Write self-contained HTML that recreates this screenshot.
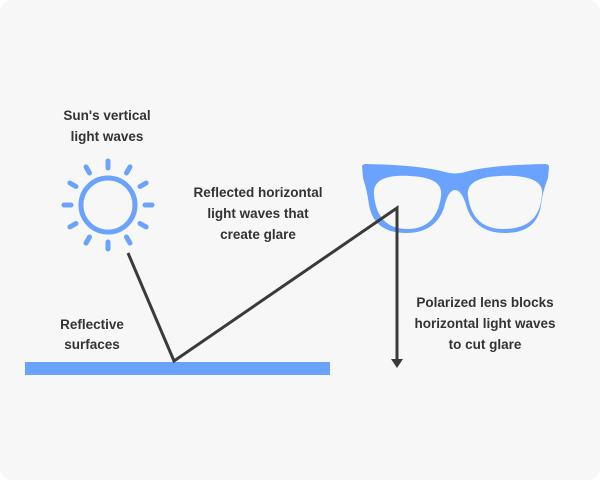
<!DOCTYPE html>
<html><head><style>
html,body{margin:0;padding:0;background:#fff;}
.t{font-family:"Liberation Sans",sans-serif;font-weight:bold;font-size:13.5px;fill:#333;}
</style></head><body>
<svg width="600" height="480" viewBox="0 0 600 480" xmlns="http://www.w3.org/2000/svg">
<rect x="0" y="0" width="600" height="480" rx="12" fill="#f7f7f7"/>
<g stroke="#6aa3ff" stroke-width="5" stroke-linecap="round" fill="none">
<circle cx="108" cy="205" r="27"/>
<g transform="translate(108,205)">
<line x1="0" y1="-37" x2="0" y2="-44"/>
<line x1="0" y1="-37" x2="0" y2="-44" transform="rotate(30)"/>
<line x1="0" y1="-37" x2="0" y2="-44" transform="rotate(60)"/>
<line x1="0" y1="-37" x2="0" y2="-44" transform="rotate(90)"/>
<line x1="0" y1="-37" x2="0" y2="-44" transform="rotate(120)"/>
<line x1="0" y1="-37" x2="0" y2="-44" transform="rotate(150)"/>
<line x1="0" y1="-37" x2="0" y2="-44" transform="rotate(180)"/>
<line x1="0" y1="-37" x2="0" y2="-44" transform="rotate(210)"/>
<line x1="0" y1="-37" x2="0" y2="-44" transform="rotate(240)"/>
<line x1="0" y1="-37" x2="0" y2="-44" transform="rotate(270)"/>
<line x1="0" y1="-37" x2="0" y2="-44" transform="rotate(300)"/>
<line x1="0" y1="-37" x2="0" y2="-44" transform="rotate(330)"/>
</g>
</g>
<path fill="#6aa3ff" d="M362,166 Q363,164 366,164 Q420,165 445,172 Q455,175 465,172 Q490,165 545,164 Q549,164 549,167 L548,178 Q543,190 541,205 Q537,233 505,233 Q476,233 467,208 Q462,190 455,190 Q448,190 444,208 Q435,233 406,233 Q374,233 369,205 Q367,190 363,178 Z"/>
<path fill="#f7f7f7" d="M374,195 C372,177 392,175 410,176 C430,177 443,182 441,196 C438,220 425,229 407,229 C388,229 376,218 374,195 Z"/>
<path fill="#f7f7f7" d="M468,196 C466,182 480,177 500,176 C518,175 545,177 542,195 C540,218 528,229 503,229 C485,229 471,220 468,196 Z"/>
<rect x="25" y="362" width="305" height="13" fill="#6aa3ff"/>
<polyline points="128,253 174,361 397,208 397,360" fill="none" stroke="#3a3a3a" stroke-width="3" stroke-linejoin="miter"/>
<polygon points="391,359 403,359 397,368" fill="#3a3a3a"/>
<text class="t" text-anchor="middle" x="107" y="120">Sun's vertical</text>
<text class="t" text-anchor="middle" x="107" y="141">light waves</text>
<text class="t" text-anchor="middle" x="258" y="197">Reflected horizontal</text>
<text class="t" text-anchor="middle" x="258" y="218">light waves that</text>
<text class="t" text-anchor="middle" x="258" y="239">create glare</text>
<text class="t" text-anchor="middle" x="92" y="329">Reflective</text>
<text class="t" text-anchor="middle" x="92" y="349">surfaces</text>
<text class="t" text-anchor="middle" x="485" y="307">Polarized lens blocks</text>
<text class="t" text-anchor="middle" x="485" y="328">horizontal light waves</text>
<text class="t" text-anchor="middle" x="485" y="349">to cut glare</text>
</svg>
</body></html>
